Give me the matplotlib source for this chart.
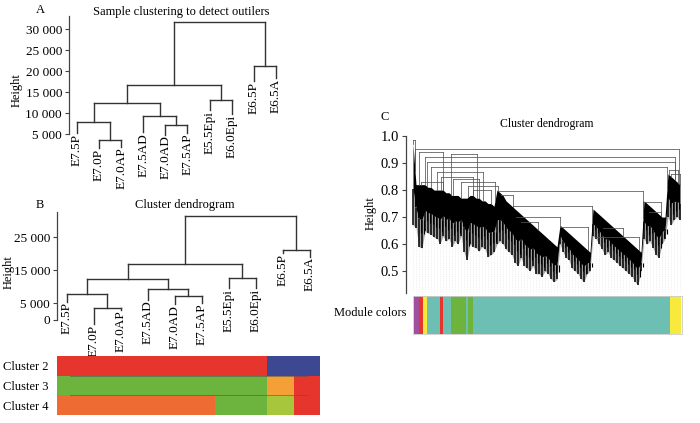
import numpy as np
import matplotlib
matplotlib.use("Agg")
import matplotlib.pyplot as plt

plt.rcParams['font.family'] = ['Liberation Serif', 'DejaVu Serif']

W, H = 700, 423

# ---- panels A / B : sample clustering ----
samples = ['E7.5P', 'E7.0P', 'E7.0AP', 'E7.5AD', 'E7.0AD', 'E7.5AP',
           'E5.5Epi', 'E6.0Epi', 'E6.5P', 'E6.5A']
# R style merge matrix: negative = sample number, positive = earlier merge step
merge_pairs = [(-2, -3), (-1, 1), (-5, -6), (-4, 3), (2, 4), (-7, -8), (5, 6), (-9, -10), (7, 8)]
merge_heights_a = [3600, 7950, 7100, 9300, 12300, 13100, 16600, 21250, 31700]
merge_heights_b = [3700, 8000, 7250, 9300, 12300, 12800, 16900, 21200, 31600]
# height where each sample's leaf ends (label starts)
leaf_end_a = [5200, 1700, 1900, 5400, 4800, 5200, 10700, 9700, 17600, 18300]
leaf_end_b = [5500, -1200, 3000, 6200, 4800, 5200, 9600, 9600, 20200, 19200]

ticks_a = [5000, 10000, 15000, 20000, 25000, 30000]
ticks_b = [0, 5000, 15000, 25000]

cluster_names = ['Cluster 2', 'Cluster 3', 'Cluster 4']
cluster2 = ['red', 'red', 'red', 'red', 'red', 'red', 'red', 'red', 'navy', 'navy']
cluster3 = ['green', 'green', 'green', 'green', 'green', 'green', 'green', 'green', 'orange', 'red']
cluster4 = ['orange2', 'orange2', 'orange2', 'orange2', 'orange2', 'orange2', 'green', 'green', 'yg', 'red']

palette = {'red': '#E5352D', 'navy': '#3D4893', 'green': '#6DB43F', 'orange': '#F5A036',
           'orange2': '#EE6B33', 'yg': '#A8C63B', 'purple': '#A0509C', 'yellow': '#F8EA3C',
           'teal': '#6DBFB3'}

# ---- panel C : gene dendrogram (bundles of leaves every 3 leaf units) ----
c_low = [0.67, 0.66, 0.59, 0.585, 0.647, 0.64, 0.635, 0.625, 0.62, 0.60,
         0.63, 0.61, 0.62, 0.59, 0.61, 0.60, 0.63, 0.57, 0.54, 0.60,
         0.59, 0.585, 0.573, 0.59, 0.58, 0.554, 0.56, 0.57, 0.60, 0.61,
         0.60, 0.58, 0.57, 0.56, 0.53, 0.52, 0.55, 0.52, 0.51, 0.50,
         0.52, 0.49, 0.49, 0.48, 0.50, 0.49, 0.47, 0.46, 0.47, 0.60,
         0.57, 0.55, 0.54, 0.51, 0.50, 0.49, 0.47, 0.46, 0.49, 0.50,
         0.63, 0.62, 0.60, 0.58, 0.56, 0.57, 0.55, 0.54, 0.53, 0.52,
         0.51, 0.50, 0.49, 0.48, 0.46, 0.45, 0.50, 0.62, 0.60, 0.61,
         0.585, 0.56, 0.55, 0.60, 0.62, 0.70, 0.67, 0.69, 0.70, 0.69]
c_top = [0.97, 0.82, 0.82, 0.82, 0.82, 0.81, 0.81, 0.80, 0.80, 0.80,
         0.80, 0.79, 0.79, 0.78, 0.78, 0.78, 0.77, 0.77, 0.77, 0.78,
         0.78, 0.77, 0.77, 0.76, 0.76, 0.75, 0.75, 0.74, 0.80, 0.79,
         0.78, 0.76, 0.75, 0.74, 0.73, 0.72, 0.71, 0.70, 0.69, 0.68,
         0.67, 0.66, 0.65, 0.64, 0.63, 0.62, 0.61, 0.60, 0.59, 0.67,
         0.66, 0.65, 0.64, 0.63, 0.62, 0.61, 0.60, 0.59, 0.58, 0.57,
         0.73, 0.72, 0.71, 0.70, 0.69, 0.68, 0.67, 0.66, 0.65, 0.64,
         0.63, 0.62, 0.61, 0.60, 0.59, 0.58, 0.57, 0.76, 0.75, 0.74,
         0.73, 0.72, 0.71, 0.70, 0.70, 0.86, 0.85, 0.84, 0.83, 0.82]
c_step = 3
# upper merges: left leaf, right leaf, height
m_left = [0, 2, 12, 14, 6, 38, 18, 24, 28, 40, 8, 48, 55, 60, 85, 88, 100, 103, 108, 147, 182, 190, 230, 236, 256, 258]
m_right = [2, 266, 262, 262, 30, 64, 254, 70, 60, 66, 30, 82, 85, 78, 230, 100, 179, 147, 125, 175, 226, 210, 248, 248, 265, 267]
m_height = [0.985, 0.951, 0.923, 0.903, 0.94, 0.935, 0.884, 0.865, 0.85, 0.84, 0.83, 0.83, 0.815, 0.80, 0.795,
            0.78, 0.74, 0.70, 0.68, 0.665, 0.626, 0.66, 0.755, 0.72, 0.875, 0.86]

module_edges = [1, 6, 10, 14, 27, 30, 38, 53, 55, 60, 257, 268]
module_cols = ['purple', 'red', 'yellow', 'teal', 'red', 'teal', 'green', 'teal', 'green', 'teal', 'yellow']


def px_axes(fig, x0, y0, x1, y1):
    return fig.add_axes([x0 / W, 1 - y1 / H, (x1 - x0) / W, (y1 - y0) / H])


def style_left_axis(ax, lo, hi, ticks, labels, size):
    for s in ['top', 'right', 'bottom']:
        ax.spines[s].set_visible(False)
    ax.spines['left'].set_bounds(lo, hi)
    ax.spines['left'].set_color('#444444')
    ax.spines['left'].set_linewidth(0.9)
    ax.set_xticks([])
    ax.set_yticks(ticks)
    ax.set_yticklabels(labels, fontsize=size)
    ax.tick_params(axis='y', length=3, width=0.8, color='#444444', pad=2)
    ax.patch.set_alpha(0)


def draw_hclust(ax, pairs, heights, labels, leaf_end, gap):
    pos = {}
    for k, (a, b) in enumerate(pairs, start=1):
        h = heights[k - 1]
        xs = []
        for node in (a, b):
            if node < 0:
                x = -node - 1
                ax.plot([x, x], [h, leaf_end[x]], color='#333333', lw=1.0, clip_on=False)
                ax.text(x, leaf_end[x] - gap, labels[x], rotation=90, ha='center',
                        va='top', fontsize=9.5, clip_on=False)
            else:
                x, y = pos[node]
                ax.plot([x, x], [y, h], color='#333333', lw=1.0, clip_on=False)
            xs.append(x)
        ax.plot(xs, [h, h], color='#333333', lw=1.0, clip_on=False)
        pos[k] = (sum(xs) / 2, h)


def thousands(v):
    return '{:,}'.format(v).replace(',', ' ')


fig = plt.figure(figsize=(W / 100, H / 100), dpi=100)

# panel A
ax_a = px_axes(fig, 69, 16, 290, 150)
draw_hclust(ax_a, merge_pairs, merge_heights_a, samples, leaf_end_a, 150)
ax_a.set_xlim(-0.36, 9.64)
ax_a.set_ylim(1190, 33100)
style_left_axis(ax_a, 5000, 33100, ticks_a, [thousands(t) for t in ticks_a], 9.5)
fig.text(181 / W, 1 - 12 / H, 'Sample clustering to detect outilers', ha='center', va='center', fontsize=9)
fig.text(40 / W, 1 - 10 / H, 'A', ha='center', va='center', fontsize=9)
fig.text(17 / W, 1 - 90 / H, 'Height', rotation=90, ha='center', va='center', fontsize=9)

# panel B
ax_b = px_axes(fig, 57, 212, 325, 340)
draw_hclust(ax_b, merge_pairs, merge_heights_b, samples, leaf_end_b, 150)
ax_b.set_xlim(-0.37, 9.56)
ax_b.set_ylim(-6060, 32700)
style_left_axis(ax_b, 0, 32700, ticks_b, [thousands(t) for t in ticks_b], 9.5)
fig.text(185 / W, 1 - 205 / H, 'Cluster dendrogram', ha='center', va='center', fontsize=9)
fig.text(40 / W, 1 - 205 / H, 'B', ha='center', va='center', fontsize=9)
fig.text(9 / W, 1 - 272 / H, 'Height', rotation=90, ha='center', va='center', fontsize=9)

# cluster colour rows
ax_cl = px_axes(fig, 57, 356, 320, 415)
rows = [cluster2, cluster3, cluster4]
for r, row in enumerate(rows):
    for i, c in enumerate(row):
        ax_cl.barh(r, 1, left=i - 0.5, height=1.0, color=palette[c], edgecolor='none')
    ax_cl.plot([0, 9], [r + 0.5, r + 0.5], color='#555555', lw=0.7, alpha=0.6)
ax_cl.set_xlim(-0.5, 9.5)
ax_cl.set_ylim(2.5, -0.5)
ax_cl.set_yticks(range(len(cluster_names)))
ax_cl.set_yticklabels(cluster_names, fontsize=9)
ax_cl.set_xticks([])
ax_cl.tick_params(axis='y', length=0, pad=6)
for s in ax_cl.spines.values():
    s.set_visible(False)

# panel C
ax_c = px_axes(fig, 406, 136, 688, 293)
c_pos = np.arange(len(c_low)) * c_step
lo_arr = np.array(c_low)
top_arr = np.array(c_top)
body = lo_arr + 0.45 * (top_arr - lo_arr)   # solid part of each bundle
for x, lo in zip(c_pos, c_low):
    ax_c.plot([x, x], [0.42, lo], color='#e4e4e4', lw=0.5, ls=':')
ax_c.fill_between(c_pos, body, top_arr, color='black', lw=0)
ax_c.fill_between(c_pos, lo_arr, body, color='black', alpha=0.35, lw=0)
ax_c.vlines(c_pos, lo_arr, body, color='black', lw=1.1)
ax_c.vlines(c_pos[:-1] + c_step / 2, (lo_arr[:-1] + body[:-1]) / 2, body[:-1], color='black', lw=0.8)
for xl, xr, h in zip(m_left, m_right, m_height):
    ax_c.plot([xl, xr], [h, h], color='#555555', lw=0.55)
    for x in (xl, xr):
        bottom = np.interp(x, c_pos, c_top)
        if bottom < h:
            ax_c.plot([x, x], [bottom, h], color='#555555', lw=0.55)
ax_c.set_xlim(-7, 275)
ax_c.set_ylim(0.419, 1.0)
c_ticks = [0.5, 0.6, 0.7, 0.8, 0.9, 1.0]
style_left_axis(ax_c, 0.419, 1.0, c_ticks, ['%.1f' % t for t in c_ticks], 10.5)
fig.text(547 / W, 1 - 124 / H, 'Cluster dendrogram', ha='center', va='center', fontsize=8.5)
fig.text(385 / W, 1 - 117 / H, 'C', ha='center', va='center', fontsize=9)
fig.text(371 / W, 1 - 213 / H, 'Height', rotation=90, ha='center', va='center', fontsize=9)

# module colour bar
ax_m = px_axes(fig, 413, 296, 682, 334)
for a, b, c in zip(module_edges[:-1], module_edges[1:], module_cols):
    ax_m.barh(0, b - a, left=a, height=1.0, color=palette[c], edgecolor='none')
ax_m.set_xlim(0, 269)
ax_m.set_ylim(-0.5, 0.5)
ax_m.set_xticks([])
ax_m.set_yticks([])
for s in ax_m.spines.values():
    s.set_color('#cccccc')
    s.set_linewidth(0.6)
fig.text(406 / W, 1 - 313 / H, 'Module colors', ha='right', va='center', fontsize=9)

fig.savefig('out.png', dpi=100)
